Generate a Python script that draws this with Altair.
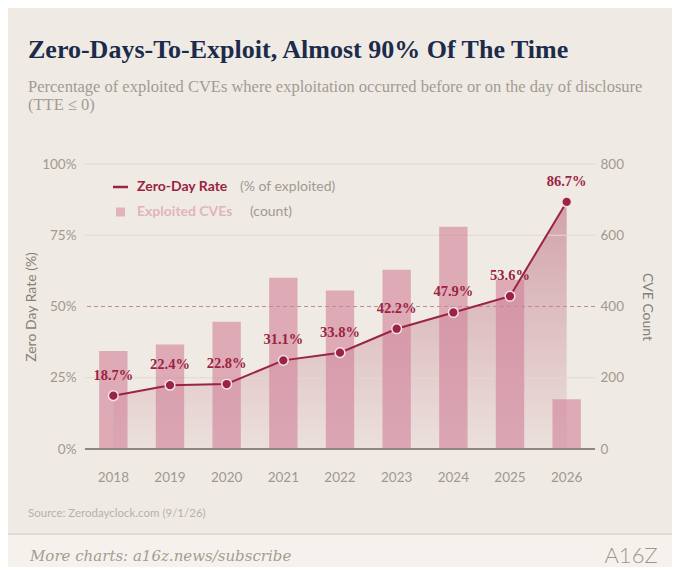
import altair as alt
import pandas as pd

# ---------------- data ----------------
years = ["2018", "2019", "2020", "2021", "2022", "2023", "2024", "2025", "2026"]
zero_day_rate = [18.7, 22.4, 22.8, 31.1, 33.8, 42.2, 47.9, 53.6, 86.7]
exploited_cves = [275, 293, 357, 481, 445, 503, 624, 475, 140]
rate_labels = ["18.7%", "22.4%", "22.8%", "31.1%", "33.8%", "42.2%", "47.9%", "53.6%", "86.7%"]
rate_ticks = [0, 25, 50, 75, 100]
count_ticks = [0, 200, 400, 600, 800]
grid_counts = [200, 600, 800]
dashed_rate = [50]
baseline_rate = [0]

title_text = "Zero-Days-To-Exploit, Almost 90% Of The Time"
subtitle_lines = [
    "Percentage of exploited CVEs where exploitation occurred before or on the day of disclosure",
    "(TTE \u2264 0)",
]
source_text = "Source: Zerodayclock.com (9/1/26)"
footer_text = "More charts: a16z.news/subscribe"
logo_text = "A16Z"

# ---------------- style ----------------
BG = "#efebe4"
FOOT_BG = "#f5f2ed"
MAROON = "#9b2343"
BAR = "#d07f97"
GRID = "#e0d9cf"
LABEL = "#a09991"
AXTITLE = "#867f78"
SANS = "Lato"
SERIF = "Liberation Serif"

W, H = 510, 285

df = pd.DataFrame({"year": years, "rate": zero_day_rate, "cves": exploited_cves, "label": rate_labels})

x_enc = alt.X(
    "year:O",
    scale=alt.Scale(paddingInner=0.5, paddingOuter=0.25),
    axis=alt.Axis(title=None, labelAngle=0, ticks=False, domain=False, labelPadding=21,
                  labelFontSize=13.5, labelFont=SANS, labelColor=LABEL),
)

rate_scale = alt.Scale(domain=[0, 100], nice=False)
count_scale = alt.Scale(domain=[0, 800], nice=False)

base = alt.Chart(df)

# --- layer 1: area (percent scale, left axis) ---
area = base.mark_area(
    color=alt.Gradient(
        gradient="linear",
        stops=[alt.GradientStop(color="#ebdfdb", offset=0),
               alt.GradientStop(color="#cf9aa3", offset=1)],
        x1=1, x2=1, y1=1, y2=0,
    ),
    opacity=0.9,
).encode(
    x=x_enc,
    y=alt.Y("rate:Q", scale=rate_scale,
            axis=alt.Axis(orient="left", values=rate_ticks, labelExpr="datum.value + '%'",
                          title="Zero Day Rate (%)", grid=False, ticks=False, domain=False,
                          labelPadding=9, titlePadding=3, labelFontSize=13.5, labelFont=SANS,
                          labelColor=LABEL, titleFont=SANS, titleFontSize=14,
                          titleFontWeight="normal", titleColor=AXTITLE)),
)
percent_back = alt.layer(area)

# --- layer 2: gridlines + bars (count scale, right axis) ---
grid = alt.Chart(pd.DataFrame({"g": grid_counts})).mark_rule(color=GRID, strokeWidth=1).encode(
    y=alt.Y("g:Q", scale=count_scale)
)
bars = base.mark_bar(color=BAR, opacity=0.6).encode(
    x=x_enc,
    y=alt.Y("cves:Q", scale=count_scale,
            axis=alt.Axis(orient="right", values=count_ticks, title="CVE Count", grid=False,
                          ticks=False, domain=False, labelPadding=5, titlePadding=16,
                          labelFontSize=13.5, labelFont=SANS, labelColor=LABEL,
                          titleFont=SANS, titleFontSize=14, titleFontWeight="normal",
                          titleColor=AXTITLE)),
)
count_layer = alt.layer(grid, bars)

# --- layer 3: rules, line, points, labels, decorations (percent scale, no axis) ---
dashed = alt.Chart(pd.DataFrame({"r": dashed_rate})).mark_rule(
    color="#c38a95", strokeWidth=1, strokeDash=[4, 3]
).encode(y=alt.Y("r:Q", scale=rate_scale, axis=None))
baseline = alt.Chart(pd.DataFrame({"r": baseline_rate})).mark_rule(
    color="#8e8780", strokeWidth=2
).encode(y=alt.Y("r:Q", scale=rate_scale, axis=None))
line = base.mark_line(color=MAROON, strokeWidth=2).encode(
    x=x_enc, y=alt.Y("rate:Q", scale=rate_scale, axis=None)
)
points = base.mark_circle(size=95, color=MAROON, opacity=1, stroke="#f3e2e6", strokeWidth=1.5).encode(
    x=x_enc, y=alt.Y("rate:Q", scale=rate_scale, axis=None)
)
labels = base.mark_text(dy=-20, font=SERIF, fontWeight="bold", fontSize=14.5, color=MAROON).encode(
    x=x_enc, y=alt.Y("rate:Q", scale=rate_scale, axis=None), text="label:N"
)


def txt(text, x, y, **kw):
    return alt.Chart(pd.DataFrame({"t": [text]})).mark_text(**kw).encode(
        x=alt.value(x), y=alt.value(y), text="t:N"
    )


footer_band = alt.Chart(pd.DataFrame({"t": [0]})).mark_rect(color=FOOT_BG).encode(
    x=alt.value(-77), x2=alt.value(587), y=alt.value(371), y2=alt.value(403)
)
footer_rule = alt.Chart(pd.DataFrame({"t": [0]})).mark_rule(color="#e2dbd1", strokeWidth=2).encode(
    x=alt.value(-77), x2=alt.value(587), y=alt.value(370)
)

legend_line = alt.Chart(pd.DataFrame({"t": [0]})).mark_rule(color=MAROON, strokeWidth=2.5).encode(
    x=alt.value(28), x2=alt.value(43), y=alt.value(23)
)
legend_square = alt.Chart(pd.DataFrame({"t": [0]})).mark_square(size=81, color="#e2b3be", opacity=1).encode(
    x=alt.value(35.5), y=alt.value(48)
)

texts = [
    txt(title_text, -57, -106, font=SERIF, fontWeight="bold", fontSize=26, color="#1c2b4a",
        align="left", baseline="alphabetic"),
    txt(subtitle_lines[0], -57, -77, font=SERIF, fontSize=16.5, color="#a19b94",
        align="left", baseline="middle"),
    txt(subtitle_lines[1], -57, -59, font=SERIF, fontSize=16.5, color="#a19b94",
        align="left", baseline="middle"),
    txt("Zero-Day Rate", 52, 23, font=SANS, fontWeight="bold", fontSize=14, color=MAROON,
        align="left", baseline="middle"),
    txt("(% of exploited)", 155, 23, font=SANS, fontSize=14, color=LABEL,
        align="left", baseline="middle"),
    txt("Exploited CVEs", 52, 48, font=SANS, fontWeight="bold", fontSize=14, color="#e2b3be",
        align="left", baseline="middle"),
    txt("(count)", 165, 48, font=SANS, fontSize=14, color=LABEL,
        align="left", baseline="middle"),
    txt(source_text, -57, 350, font=SANS, fontSize=11.5, color="#b8b1a9",
        align="left", baseline="middle"),
    txt(footer_text, -55, 392, font="DejaVu Serif", fontStyle="italic", fontSize=15,
        color="#a59d92", align="left", baseline="middle"),
    txt(logo_text, 546, 392, font=SANS, fontWeight=300, fontSize=22, color="#9d9589",
        align="center", baseline="middle"),
]

percent_front = alt.layer(dashed, baseline, line, points, labels, footer_band, footer_rule,
                          legend_line, legend_square, *texts)

chart = alt.layer(percent_back, count_layer, percent_front).resolve_scale(
    y="independent"
).properties(
    width=W, height=H,
    padding={"left": 77, "top": 156, "right": 77, "bottom": 118},
    autosize=alt.AutoSizeParams(type="none"),
    background=BG,
).configure_view(stroke=None)

chart.save("out.html", embed_options={"renderer": "svg", "actions": False})
